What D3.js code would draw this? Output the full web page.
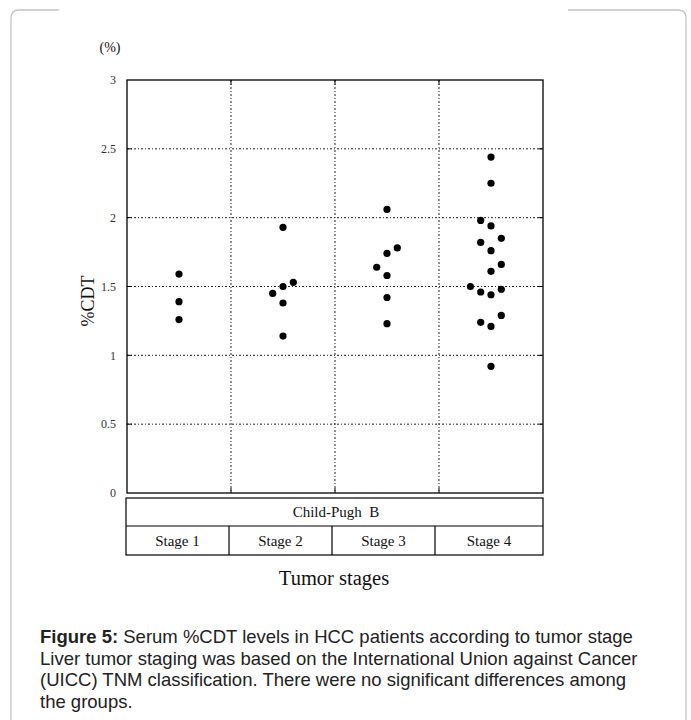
<!DOCTYPE html>
<meta charset="utf-8">
<head>
  <style>
    body { margin: 0; background: #fff; }
    .tick-label { font-family: "Liberation Serif", "Times New Roman", serif; font-size: 12px; fill: #333; }
    .serif { font-family: "Liberation Serif", "Times New Roman", serif; fill: #111; }
    .caption { font-family: "Liberation Sans", Arial, sans-serif; font-size: 18.5px; fill: #222; }
    .grid line { stroke: #222; stroke-width: 1; stroke-dasharray: 2,2,1,2; }
  </style>
  <script src="https://cdn.jsdelivr.net/npm/d3@7"></script>
</head>
<body>
  <svg width="691" height="720"></svg>
  <script>

    // categories and values
    var stages = ["Stage 1", "Stage 2", "Stage 3", "Stage 4"];
    var yTicks = [0, 0.5, 1, 1.5, 2, 2.5, 3];

    var stage1 = [1.59, 1.39, 1.26];
    var stage2 = [1.93, 1.53, 1.50, 1.45, 1.38, 1.14];
    var stage3 = [2.06, 1.78, 1.74, 1.64, 1.58, 1.42, 1.23];
    var stage4 = [2.44, 2.25, 1.98, 1.94, 1.85, 1.82, 1.76, 1.66, 1.61, 1.50, 1.48, 1.46, 1.44, 1.29, 1.24, 1.21, 0.92];

    // side-by-side slot of each dot (0 = centre, -1 left, +1 right)
    var slot1 = [0, 0, 0];
    var slot2 = [0, 1, 0, -1, 0, 0];
    var slot3 = [0, 1, 0, -1, 0, 0, 0];
    var slot4 = [0, 0, -1, 0, 1, -1, 0, 1, 0, -2, 1, -1, 0, 1, -1, 0, 0];

    var groupLabel = "Child-Pugh  B";
    var xTitle = "Tumor stages";
    var yTitle = "%CDT";
    var unit = "(%)";
    var captionBold = "Figure 5:";
    var captionLines = [
      " Serum %CDT levels in HCC patients according to tumor stage",
      "Liver tumor staging was based on the International Union against Cancer",
      "(UICC) TNM classification. There were no significant differences among",
      "the groups."
    ];

    var svg = d3.select("svg");

    var x = d3.scaleBand().domain(stages).range([127, 543]);
    var y = d3.scaleLinear().domain([0, 3]).range([493, 80]);
    var jitter = d3.scaleLinear().domain([-1, 1]).range([-10.3, 10.3]);

    var points = [];
    [stage1, stage2, stage3, stage4].forEach(function(vals, i) {
      var slots = [slot1, slot2, slot3, slot4][i];
      vals.forEach(function(v, j) {
        points.push({ stage: stages[i], value: v, slot: slots[j] });
      });
    });

    // page frame
    var frame = svg.append("g").attr("fill", "none").attr("stroke", "#c4c4c4").attr("stroke-width", 1.3);
    frame.append("path").attr("d", "M59,10 L19,10 Q11,10 11,18 L11,720");
    frame.append("path").attr("d", "M568,10 L678,10 Q686,10 686,18 L686,720");

    // grid
    var grid = svg.append("g").attr("class", "grid");
    grid.selectAll(".h")
      .data(yTicks.slice(1, -1))
      .enter().append("line")
      .attr("x1", 127).attr("x2", 543)
      .attr("y1", function(d) { return y(d); })
      .attr("y2", function(d) { return y(d); });
    grid.selectAll(".v")
      .data(stages.slice(1))
      .enter().append("line")
      .attr("x1", function(d) { return x(d); })
      .attr("x2", function(d) { return x(d); })
      .attr("y1", 80).attr("y2", 493);

    // inward ticks
    var ticks = svg.append("g").attr("stroke", "#000").attr("stroke-width", 1);
    yTicks.slice(1, -1).forEach(function(t) {
      ticks.append("line").attr("x1", 127).attr("x2", 132).attr("y1", y(t)).attr("y2", y(t));
      ticks.append("line").attr("x1", 543).attr("x2", 538).attr("y1", y(t)).attr("y2", y(t));
    });
    stages.slice(1).forEach(function(s) {
      ticks.append("line").attr("x1", x(s)).attr("x2", x(s)).attr("y1", 80).attr("y2", 85);
      ticks.append("line").attr("x1", x(s)).attr("x2", x(s)).attr("y1", 493).attr("y2", 488);
    });

    // plot border
    svg.append("rect")
      .attr("x", 127).attr("y", 80)
      .attr("width", 416).attr("height", 413)
      .attr("fill", "none").attr("stroke", "#000").attr("stroke-width", 1.3);

    // y tick labels
    svg.selectAll(".ytl")
      .data(yTicks)
      .enter().append("text")
      .attr("class", "tick-label")
      .attr("x", 116)
      .attr("y", function(d) { return y(d); })
      .attr("dy", "0.35em")
      .attr("text-anchor", "end")
      .text(function(d) { return d; });

    svg.append("text").attr("class", "serif")
      .attr("x", 110).attr("y", 52)
      .attr("text-anchor", "middle")
      .attr("font-size", "14px")
      .text(unit);

    svg.append("text").attr("class", "serif")
      .attr("transform", "translate(94,301) rotate(-90)")
      .attr("text-anchor", "middle")
      .attr("font-size", "18px")
      .text(yTitle);

    // dots
    svg.append("g").selectAll("circle")
      .data(points)
      .enter().append("circle")
      .attr("cx", function(d) { return x(d.stage) + x.bandwidth() / 2 + jitter(d.slot); })
      .attr("cy", function(d) { return y(d.value); })
      .attr("r", 3.6)
      .attr("fill", "#000");

    // table under the axis
    var tx = d3.scaleBand().domain(stages).range([126, 538]);
    var table = svg.append("g").attr("stroke", "#000").attr("stroke-width", 1.2).attr("fill", "none");
    table.append("rect").attr("x", 126).attr("y", 498).attr("width", 417).attr("height", 57);
    table.append("line").attr("x1", 126).attr("x2", 543).attr("y1", 526).attr("y2", 526);
    table.selectAll(".col")
      .data(stages.slice(1))
      .enter().append("line")
      .attr("x1", function(d) { return tx(d); })
      .attr("x2", function(d) { return tx(d); })
      .attr("y1", 526).attr("y2", 555);

    svg.append("text").attr("class", "serif")
      .attr("x", 336).attr("y", 512)
      .attr("dy", "0.35em")
      .attr("text-anchor", "middle")
      .attr("font-size", "15px")
      .style("white-space", "pre")
      .text(groupLabel);

    svg.selectAll(".stl")
      .data(stages)
      .enter().append("text")
      .attr("class", "serif")
      .attr("x", function(d, i) { return i < 3 ? tx(d) + tx.bandwidth() / 2 : (tx(d) + 543) / 2; })
      .attr("y", 541)
      .attr("dy", "0.35em")
      .attr("text-anchor", "middle")
      .attr("font-size", "15px")
      .text(function(d) { return d; });

    svg.append("text").attr("class", "serif")
      .attr("x", 334).attr("y", 578)
      .attr("dy", "0.35em")
      .attr("text-anchor", "middle")
      .attr("font-size", "20.5px")
      .text(xTitle);

    // caption
    var cap = svg.append("text").attr("class", "caption").attr("x", 40).attr("y", 643);
    captionLines.forEach(function(line, i) {
      var t = cap.append("tspan").attr("x", 40).attr("dy", i === 0 ? 0 : 21.5);
      if (i === 0) {
        t.append("tspan").attr("font-weight", "bold").text(captionBold);
        t.append("tspan").style("white-space", "pre").text(line);
      } else {
        t.text(line);
      }
    });

  </script>
</body>
